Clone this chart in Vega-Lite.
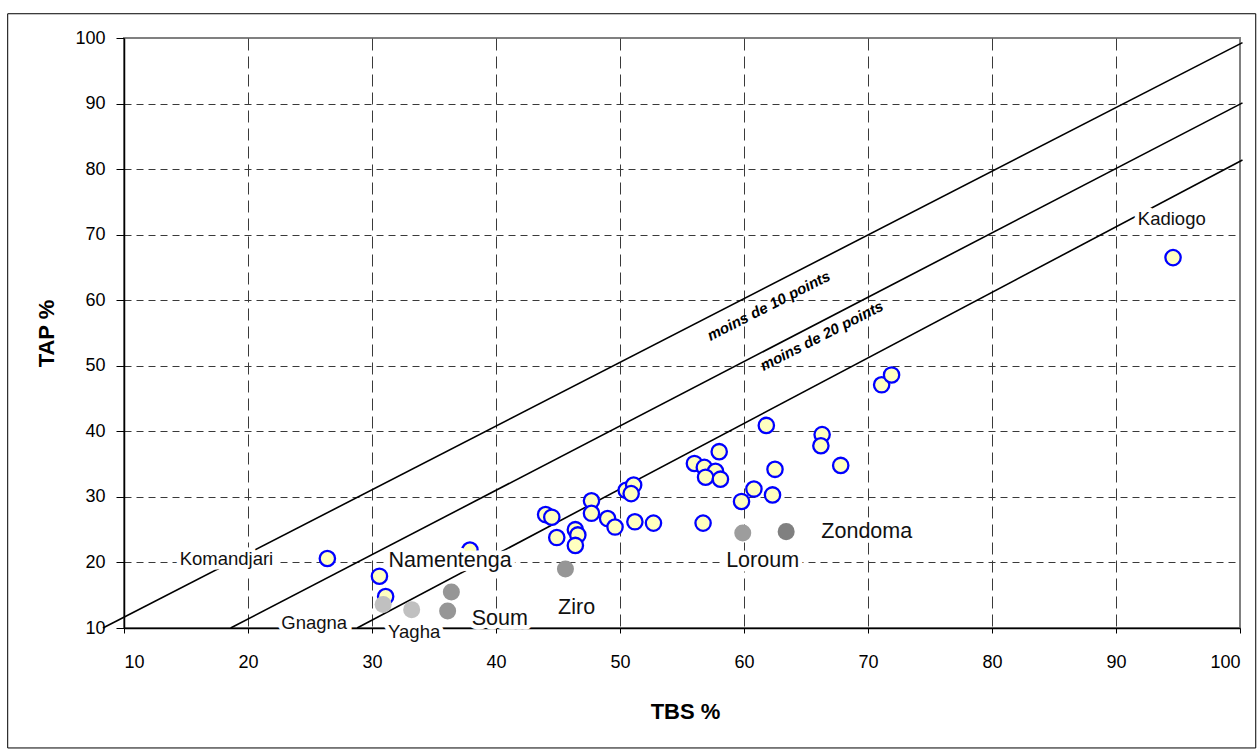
{
  "$schema": "https://vega.github.io/schema/vega-lite/v6.json",
  "width": 1116,
  "height": 590,
  "autosize": {"type": "none"},
  "padding": {"left": 124, "top": 38, "right": 18, "bottom": 126},
  "background": "white",
  "config": {
    "font": "Liberation Sans",
    "view": {"stroke": "#808080", "strokeWidth": 2}
  },
  "datasets": {
    "points": [
      {"province": "Komandjari", "tbs": 26.4, "tap": 20.6, "groupe": "bleu"},
      {"province": "", "tbs": 30.6, "tap": 17.9, "groupe": "bleu"},
      {"province": "", "tbs": 31.1, "tap": 14.8, "groupe": "bleu"},
      {"province": "", "tbs": 37.9, "tap": 21.9, "groupe": "bleu"},
      {"province": "", "tbs": 44.0, "tap": 27.3, "groupe": "bleu"},
      {"province": "", "tbs": 44.5, "tap": 26.9, "groupe": "bleu"},
      {"province": "", "tbs": 44.9, "tap": 23.8, "groupe": "bleu"},
      {"province": "", "tbs": 46.4, "tap": 25.0, "groupe": "bleu"},
      {"province": "", "tbs": 46.6, "tap": 24.2, "groupe": "bleu"},
      {"province": "", "tbs": 46.4, "tap": 22.6, "groupe": "bleu"},
      {"province": "", "tbs": 47.7, "tap": 29.4, "groupe": "bleu"},
      {"province": "", "tbs": 47.7, "tap": 27.5, "groupe": "bleu"},
      {"province": "", "tbs": 49.0, "tap": 26.7, "groupe": "bleu"},
      {"province": "", "tbs": 49.6, "tap": 25.4, "groupe": "bleu"},
      {"province": "", "tbs": 50.5, "tap": 31.0, "groupe": "bleu"},
      {"province": "", "tbs": 51.1, "tap": 31.8, "groupe": "bleu"},
      {"province": "", "tbs": 50.9, "tap": 30.5, "groupe": "bleu"},
      {"province": "", "tbs": 51.2, "tap": 26.2, "groupe": "bleu"},
      {"province": "", "tbs": 52.7, "tap": 26.0, "groupe": "bleu"},
      {"province": "", "tbs": 56.0, "tap": 35.1, "groupe": "bleu"},
      {"province": "", "tbs": 56.8, "tap": 34.5, "groupe": "bleu"},
      {"province": "", "tbs": 57.7, "tap": 33.9, "groupe": "bleu"},
      {"province": "", "tbs": 56.9, "tap": 33.0, "groupe": "bleu"},
      {"province": "", "tbs": 58.1, "tap": 32.7, "groupe": "bleu"},
      {"province": "", "tbs": 58.0, "tap": 36.9, "groupe": "bleu"},
      {"province": "", "tbs": 56.7, "tap": 26.0, "groupe": "bleu"},
      {"province": "", "tbs": 59.8, "tap": 29.3, "groupe": "bleu"},
      {"province": "", "tbs": 60.8, "tap": 31.2, "groupe": "bleu"},
      {"province": "", "tbs": 62.3, "tap": 30.3, "groupe": "bleu"},
      {"province": "", "tbs": 62.5, "tap": 34.2, "groupe": "bleu"},
      {"province": "", "tbs": 61.8, "tap": 40.9, "groupe": "bleu"},
      {"province": "", "tbs": 66.3, "tap": 39.5, "groupe": "bleu"},
      {"province": "", "tbs": 66.2, "tap": 37.8, "groupe": "bleu"},
      {"province": "", "tbs": 67.8, "tap": 34.8, "groupe": "bleu"},
      {"province": "", "tbs": 71.1, "tap": 47.1, "groupe": "bleu"},
      {"province": "", "tbs": 71.9, "tap": 48.6, "groupe": "bleu"},
      {"province": "Kadiogo", "tbs": 94.6, "tap": 66.5, "groupe": "bleu"},
      {"province": "Gnagna", "tbs": 30.9, "tap": 13.6, "groupe": "gris clair"},
      {"province": "Yagha", "tbs": 33.2, "tap": 12.8, "groupe": "gris clair"},
      {"province": "Namentenga", "tbs": 36.4, "tap": 15.5, "groupe": "gris"},
      {"province": "Soum", "tbs": 36.1, "tap": 12.6, "groupe": "gris"},
      {"province": "Ziro", "tbs": 45.6, "tap": 19.0, "groupe": "gris"},
      {"province": "Loroum", "tbs": 59.9, "tap": 24.5, "groupe": "gris moyen"},
      {"province": "Zondoma", "tbs": 63.4, "tap": 24.7, "groupe": "gris foncé"}
    ],
    "lignes": [
      {"ligne": "a", "tbs": 8.3, "tap": 10},
      {"ligne": "a", "tbs": 100.2, "tap": 99.3},
      {"ligne": "b", "tbs": 18.6, "tap": 10},
      {"ligne": "b", "tbs": 100.2, "tap": 90.1},
      {"ligne": "c", "tbs": 28.8, "tap": 10},
      {"ligne": "c", "tbs": 100.2, "tap": 81.4}
    ],
    "etiquettes": [
      {"province": "Komandjari", "lx": 18.26, "ly": 19.62, "taille": "petit"},
      {"province": "Namentenga", "lx": 36.3, "ly": 19.36, "taille": "grand"},
      {"province": "Gnagna", "lx": 25.34, "ly": 9.85, "taille": "petit"},
      {"province": "Yagha", "lx": 33.4, "ly": 8.47, "taille": "petit"},
      {"province": "Soum", "lx": 40.3, "ly": 10.46, "taille": "grand"},
      {"province": "Ziro", "lx": 46.5, "ly": 12.1, "taille": "grand"},
      {"province": "Loroum", "lx": 61.5, "ly": 19.36, "taille": "grand"},
      {"province": "Zondoma", "lx": 69.9, "ly": 23.7, "taille": "grand"},
      {"province": "Kadiogo", "lx": 94.5, "ly": 71.5, "taille": "petit"}
    ],
    "seuils": [
      {"texte": "moins de 10 points", "lx": 61.99, "ly": 59.16},
      {"texte": "moins de 20 points", "lx": 66.27, "ly": 54.58}
    ],
    "cadre": [{"x1": 0.62, "x2": 101.27, "y1": 103.7, "y2": -8.3}]
  },
  "layer": [
    {
      "data": {"name": "cadre"},
      "mark": {"type": "rect", "filled": false, "stroke": "black", "strokeWidth": 1},
      "encoding": {
        "x": {"field": "x1", "type": "quantitative", "title": "TBS %",
          "scale": {"domain": [10, 100], "nice": false, "zero": false},
          "axis": {
            "values": [10, 20, 30, 40, 50, 60, 70, 80, 90, 100],
            "domainColor": "black", "domainWidth": 1.5,
            "tickColor": "black", "tickSize": 5, "tickWidth": 1,
            "labelFont": "Liberation Sans", "labelFontSize": 18, "labelColor": "black", "labelPadding": 20,
            "grid": true, "gridDash": [12, 6], "gridWidth": 1,
            "gridColor": {"condition": {"test": "datum.value == 10 || datum.value == 100", "value": "transparent"}, "value": "#3a3a3a"},
            "titleFont": "Liberation Sans", "titleFontSize": 22, "titleFontWeight": "bold", "titleColor": "black",
            "titleX": 561, "titleY": 83, "titleAlign": "center", "titleBaseline": "middle"
          }
        },
        "x2": {"field": "x2"},
        "y": {"field": "y1", "type": "quantitative", "title": "TAP %",
          "scale": {"domain": [10, 100], "nice": false, "zero": false},
          "axis": {
            "values": [10, 20, 30, 40, 50, 60, 70, 80, 90, 100],
            "domainColor": "black", "domainWidth": 1.5,
            "tickColor": "black", "tickSize": 8, "tickWidth": 1,
            "labelFont": "Liberation Sans", "labelFontSize": 18, "labelColor": "black", "labelPadding": 11,
            "grid": true, "gridDash": [7, 5], "gridWidth": 1,
            "gridColor": {"condition": {"test": "datum.value == 10 || datum.value == 100", "value": "transparent"}, "value": "#3a3a3a"},
            "titleFont": "Liberation Sans", "titleFontSize": 22, "titleFontWeight": "bold", "titleColor": "black",
            "titleAngle": -90, "titleX": -78, "titleY": 295, "titleAlign": "center", "titleBaseline": "middle"
          }
        },
        "y2": {"field": "y2"}
      }
    },
    {
      "data": {"name": "lignes"},
      "mark": {"type": "line", "color": "black", "strokeWidth": 1.6},
      "encoding": {
        "x": {"field": "tbs", "type": "quantitative", "title": "TBS %"},
        "y": {"field": "tap", "type": "quantitative", "title": "TAP %"},
        "detail": {"field": "ligne"}
      }
    },
    {
      "data": {"name": "points"},
      "transform": [{"filter": "datum.groupe === 'bleu'"}],
      "mark": {"type": "point", "shape": "circle", "filled": true, "size": 235, "fill": "#ffffc0", "fillOpacity": 1, "stroke": "#0000ff", "strokeWidth": 2.3, "strokeOpacity": 1, "opacity": 1},
      "encoding": {
        "x": {"field": "tbs", "type": "quantitative", "title": "TBS %"},
        "y": {"field": "tap", "type": "quantitative", "title": "TAP %"}
      }
    },
    {
      "data": {"name": "points"},
      "transform": [{"filter": "datum.groupe !== 'bleu'"}],
      "mark": {"type": "circle", "size": 290, "opacity": 1},
      "encoding": {
        "x": {"field": "tbs", "type": "quantitative", "title": "TBS %"},
        "y": {"field": "tap", "type": "quantitative", "title": "TAP %"},
        "color": {
          "field": "groupe", "type": "nominal", "legend": null,
          "scale": {"domain": ["gris clair", "gris", "gris moyen", "gris foncé"], "range": ["#c0c0c0", "#969696", "#9d9d9d", "#808080"]}
        }
      }
    },
    {
      "data": {"name": "etiquettes"},
      "mark": {"type": "text", "align": "center", "baseline": "alphabetic", "fill": "white", "stroke": "white", "strokeWidth": 9, "strokeJoin": "round"},
      "encoding": {
        "x": {"field": "lx", "type": "quantitative", "title": "TBS %"},
        "y": {"field": "ly", "type": "quantitative", "title": "TAP %"},
        "text": {"field": "province"},
        "size": {"field": "taille", "type": "nominal", "legend": null, "scale": {"domain": ["petit", "grand"], "range": [18.5, 21.5]}}
      }
    },
    {
      "data": {"name": "etiquettes"},
      "mark": {"type": "text", "align": "center", "baseline": "alphabetic", "fill": "#111111"},
      "encoding": {
        "x": {"field": "lx", "type": "quantitative", "title": "TBS %"},
        "y": {"field": "ly", "type": "quantitative", "title": "TAP %"},
        "text": {"field": "province"},
        "size": {"field": "taille", "type": "nominal", "legend": null, "scale": {"domain": ["petit", "grand"], "range": [18.5, 21.5]}}
      }
    },
    {
      "data": {"name": "seuils"},
      "mark": {"type": "text", "align": "center", "baseline": "middle", "angle": -27, "fontSize": 15, "fontWeight": "bold", "fontStyle": "italic", "fill": "black"},
      "encoding": {
        "x": {"field": "lx", "type": "quantitative", "title": "TBS %"},
        "y": {"field": "ly", "type": "quantitative", "title": "TAP %"},
        "text": {"field": "texte"}
      }
    }
  ]
}
